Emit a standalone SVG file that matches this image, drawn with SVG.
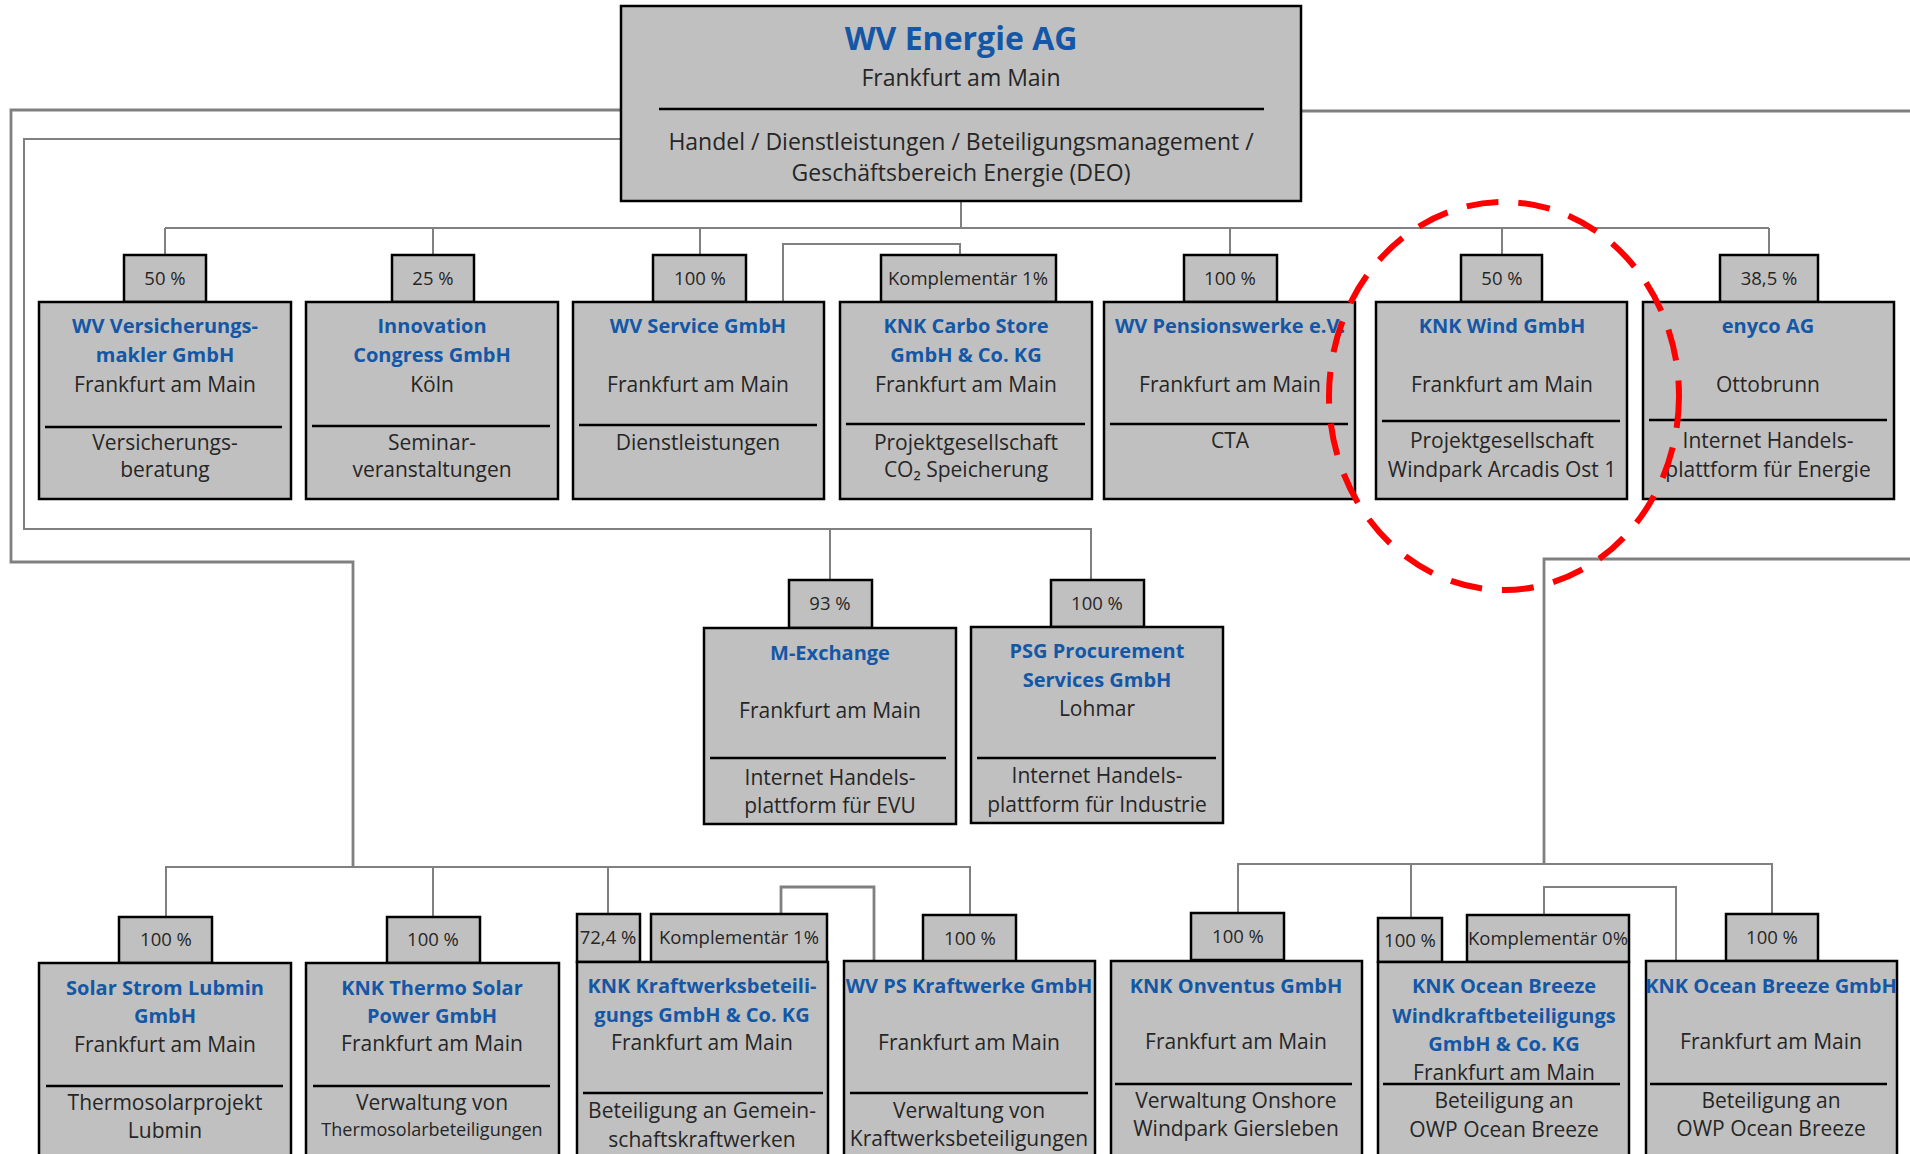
<svg xmlns="http://www.w3.org/2000/svg" width="1910" height="1154" viewBox="0 0 1910 1154">
<style>
.box{fill:#C0C0C0;stroke:#000;stroke-width:2.5}
.sep{stroke:#000;stroke-width:2.5}
.conn{fill:none;stroke:#808080;stroke-width:2}
.thick{stroke-width:2.8}
text{font-family:"Open Sans","Liberation Sans",sans-serif;font-size:21px;fill:#262626;text-anchor:middle}
.b{font-weight:bold;fill:#1357A6;font-size:20px}
.p{font-size:18.5px}
.s{font-size:18px}
.ring{fill:none;stroke:#FF0000;stroke-width:6;stroke-dasharray:32 20}
</style>
<rect width="1910" height="1154" fill="#fff"/>
<g id="connectors">
<path class="conn" d="M961,201 V228 M165,228 H1769 M165,228 V255 M433,228 V255 M700,228 V255 M1230,228 V255 M1502,228 V255 M1769,228 V255"/>
<path class="conn" d="M783,302 V244 H960 V255"/>
<path class="conn thick" d="M621,110 H11 V562 H353 V867"/>
<path class="conn" d="M621,139 H24 V529 H1091 V580 M830,529 V580"/>
<path class="conn thick" d="M1301,111 H1910 M1910,559 H1544 V864"/>
<path class="conn" d="M166,917 V867 H970 V915 M433,867 V917 M608,867 V914"/>
<path class="conn thick" d="M781,914 V887 H874 V961"/>
<path class="conn" d="M1238,913 V864 H1772 V914 M1411,864 V918"/>
<path class="conn" d="M1544,915 V887 H1676 V962"/>
</g>
<g id="wv-energie">
<rect class="box" x="621" y="6" width="680" height="195"/>
<line class="sep" x1="659" y1="109" x2="1264" y2="109"/>
<text class="b" x="961" y="50" style="font-size:32px">WV Energie AG</text>
<text x="961" y="86" style="font-size:23px">Frankfurt am Main</text>
<text x="961" y="150" style="font-size:23px">Handel / Dienstleistungen / Beteiligungsmanagement /</text>
<text x="961" y="181" style="font-size:23px">Geschäftsbereich Energie (DEO)</text>
</g>
<g id="wv-versicherung">
<rect class="box" x="124" y="255" width="82" height="47"/><text class="p" x="165" y="285">50 %</text>
<rect class="box" x="39" y="302" width="252" height="197"/>
<line class="sep" x1="45" y1="427" x2="282" y2="427"/>
<text class="b" x="165" y="333">WV Versicherungs-</text>
<text class="b" x="165" y="362">makler GmbH</text>
<text x="165" y="392">Frankfurt am Main</text>
<text x="165" y="450">Versicherungs-</text>
<text x="165" y="477">beratung</text>
</g>
<g id="innovation-congress">
<rect class="box" x="392" y="255" width="82" height="47"/><text class="p" x="433" y="285">25 %</text>
<rect class="box" x="306" y="302" width="252" height="197"/>
<line class="sep" x1="312" y1="426" x2="550" y2="426"/>
<text class="b" x="432" y="333">Innovation</text>
<text class="b" x="432" y="362">Congress GmbH</text>
<text x="432" y="392">Köln</text>
<text x="432" y="450">Seminar-</text>
<text x="432" y="477">veranstaltungen</text>
</g>
<g id="wv-service">
<rect class="box" x="653" y="255" width="93" height="47"/><text class="p" x="700" y="285">100 %</text>
<rect class="box" x="573" y="302" width="251" height="197"/>
<line class="sep" x1="579" y1="425" x2="817" y2="425"/>
<text class="b" x="698" y="333">WV Service GmbH</text>
<text x="698" y="392">Frankfurt am Main</text>
<text x="698" y="450">Dienstleistungen</text>
</g>
<g id="knk-carbo-store">
<rect class="box" x="881" y="255" width="175" height="47"/><text class="p" x="968" y="285">Komplementär 1%</text>
<rect class="box" x="840" y="302" width="252" height="197"/>
<line class="sep" x1="846" y1="424" x2="1085" y2="424"/>
<text class="b" x="966" y="333">KNK Carbo Store</text>
<text class="b" x="966" y="362">GmbH &amp; Co. KG</text>
<text x="966" y="392">Frankfurt am Main</text>
<text x="966" y="450">Projektgesellschaft</text>
<text x="966" y="477">CO₂ Speicherung</text>
</g>
<g id="wv-pensionswerke">
<rect class="box" x="1184" y="255" width="93" height="47"/><text class="p" x="1230" y="285">100 %</text>
<rect class="box" x="1104" y="302" width="251" height="197"/>
<line class="sep" x1="1110" y1="424" x2="1348" y2="424"/>
<text class="b" x="1230" y="333">WV Pensionswerke e.V.</text>
<text x="1230" y="392">Frankfurt am Main</text>
<text x="1230" y="448">CTA</text>
</g>
<g id="knk-wind">
<rect class="box" x="1461" y="255" width="81" height="47"/><text class="p" x="1502" y="285">50 %</text>
<rect class="box" x="1376" y="302" width="251" height="197"/>
<line class="sep" x1="1382" y1="421" x2="1620" y2="421"/>
<text class="b" x="1502" y="333">KNK Wind GmbH</text>
<text x="1502" y="392">Frankfurt am Main</text>
<text x="1502" y="448">Projektgesellschaft</text>
<text x="1502" y="477">Windpark Arcadis Ost 1</text>
</g>
<g id="enyco">
<rect class="box" x="1720" y="255" width="98" height="47"/><text class="p" x="1769" y="285">38,5 %</text>
<rect class="box" x="1643" y="302" width="251" height="197"/>
<line class="sep" x1="1649" y1="420" x2="1887" y2="420"/>
<text class="b" x="1768" y="333">enyco AG</text>
<text x="1768" y="392">Ottobrunn</text>
<text x="1768" y="448">Internet Handels-</text>
<text x="1768" y="477">plattform für Energie</text>
</g>
<g id="m-exchange">
<rect class="box" x="789" y="580" width="83" height="48"/><text class="p" x="830" y="610">93 %</text>
<rect class="box" x="704" y="628" width="252" height="196"/>
<line class="sep" x1="710" y1="758" x2="946" y2="758"/>
<text class="b" x="830" y="660">M-Exchange</text>
<text x="830" y="718">Frankfurt am Main</text>
<text x="830" y="785">Internet Handels-</text>
<text x="830" y="813">plattform für EVU</text>
</g>
<g id="psg-procurement">
<rect class="box" x="1051" y="580" width="93" height="47"/><text class="p" x="1097" y="610">100 %</text>
<rect class="box" x="971" y="627" width="252" height="196"/>
<line class="sep" x1="977" y1="758" x2="1216" y2="758"/>
<text class="b" x="1097" y="658">PSG Procurement</text>
<text class="b" x="1097" y="687">Services GmbH</text>
<text x="1097" y="716">Lohmar</text>
<text x="1097" y="783">Internet Handels-</text>
<text x="1097" y="812">plattform für Industrie</text>
</g>
<g id="solar-strom-lubmin">
<rect class="box" x="119" y="917" width="93" height="46"/><text class="p" x="166" y="946">100 %</text>
<rect class="box" x="39" y="963" width="252" height="200"/>
<line class="sep" x1="46" y1="1086" x2="283" y2="1086"/>
<text class="b" x="165" y="995">Solar Strom Lubmin</text>
<text class="b" x="165" y="1023">GmbH</text>
<text x="165" y="1052">Frankfurt am Main</text>
<text x="165" y="1110">Thermosolarprojekt</text>
<text x="165" y="1138">Lubmin</text>
</g>
<g id="knk-thermo-solar">
<rect class="box" x="387" y="917" width="93" height="46"/><text class="p" x="433" y="946">100 %</text>
<rect class="box" x="306" y="963" width="253" height="200"/>
<line class="sep" x1="313" y1="1086" x2="550" y2="1086"/>
<text class="b" x="432" y="995">KNK Thermo Solar</text>
<text class="b" x="432" y="1023">Power GmbH</text>
<text x="432" y="1051">Frankfurt am Main</text>
<text x="432" y="1110">Verwaltung von</text>
<text class="s" x="432" y="1136">Thermosolarbeteiligungen</text>
</g>
<g id="knk-kraftwerksbeteiligungs">
<rect class="box" x="577" y="914" width="63" height="48"/><text class="p" x="608" y="944">72,4 %</text>
<rect class="box" x="651" y="914" width="176" height="48"/><text class="p" x="739" y="944">Komplementär 1%</text>
<rect class="box" x="577" y="962" width="251" height="200"/>
<line class="sep" x1="583" y1="1093" x2="823" y2="1093"/>
<text class="b" x="702" y="993">KNK Kraftwerksbeteili-</text>
<text class="b" x="702" y="1022">gungs GmbH &amp; Co. KG</text>
<text x="702" y="1050">Frankfurt am Main</text>
<text x="702" y="1118">Beteiligung an Gemein-</text>
<text x="702" y="1147">schaftskraftwerken</text>
</g>
<g id="wv-ps-kraftwerke">
<rect class="box" x="923" y="915" width="93" height="47"/><text class="p" x="970" y="945">100 %</text>
<rect class="box" x="844" y="961" width="251" height="200"/>
<line class="sep" x1="850" y1="1093" x2="1088" y2="1093"/>
<text class="b" x="969" y="993">WV PS Kraftwerke GmbH</text>
<text x="969" y="1050">Frankfurt am Main</text>
<text x="969" y="1118">Verwaltung von</text>
<text x="969" y="1146">Kraftwerksbeteiligungen</text>
</g>
<g id="knk-onventus">
<rect class="box" x="1191" y="913" width="93" height="47"/><text class="p" x="1238" y="943">100 %</text>
<rect class="box" x="1111" y="961" width="251" height="200"/>
<line class="sep" x1="1115" y1="1084" x2="1352" y2="1084"/>
<text class="b" x="1236" y="993">KNK Onventus GmbH</text>
<text x="1236" y="1049">Frankfurt am Main</text>
<text x="1236" y="1108">Verwaltung Onshore</text>
<text x="1236" y="1136">Windpark Giersleben</text>
</g>
<g id="knk-ocean-breeze-windkraft">
<rect class="box" x="1378" y="918" width="64" height="44"/><text class="p" x="1410" y="947">100 %</text>
<rect class="box" x="1467" y="915" width="162" height="47"/><text class="p" x="1548" y="945">Komplementär 0%</text>
<rect class="box" x="1378" y="962" width="251" height="200"/>
<line class="sep" x1="1383" y1="1084" x2="1620" y2="1084"/>
<text class="b" x="1504" y="993">KNK Ocean Breeze</text>
<text class="b" x="1504" y="1023">Windkraftbeteiligungs</text>
<text class="b" x="1504" y="1051">GmbH &amp; Co. KG</text>
<text x="1504" y="1080">Frankfurt am Main</text>
<text x="1504" y="1108">Beteiligung an</text>
<text x="1504" y="1137">OWP Ocean Breeze</text>
</g>
<g id="knk-ocean-breeze">
<rect class="box" x="1726" y="914" width="92" height="47"/><text class="p" x="1772" y="944">100 %</text>
<rect class="box" x="1646" y="961" width="251" height="200"/>
<line class="sep" x1="1650" y1="1084" x2="1887" y2="1084"/>
<text class="b" x="1771" y="993">KNK Ocean Breeze GmbH</text>
<text x="1771" y="1049">Frankfurt am Main</text>
<text x="1771" y="1108">Beteiligung an</text>
<text x="1771" y="1136">OWP Ocean Breeze</text>
</g>
<ellipse id="highlight" class="ring" cx="1504" cy="396" rx="175" ry="194"/>
</svg>
